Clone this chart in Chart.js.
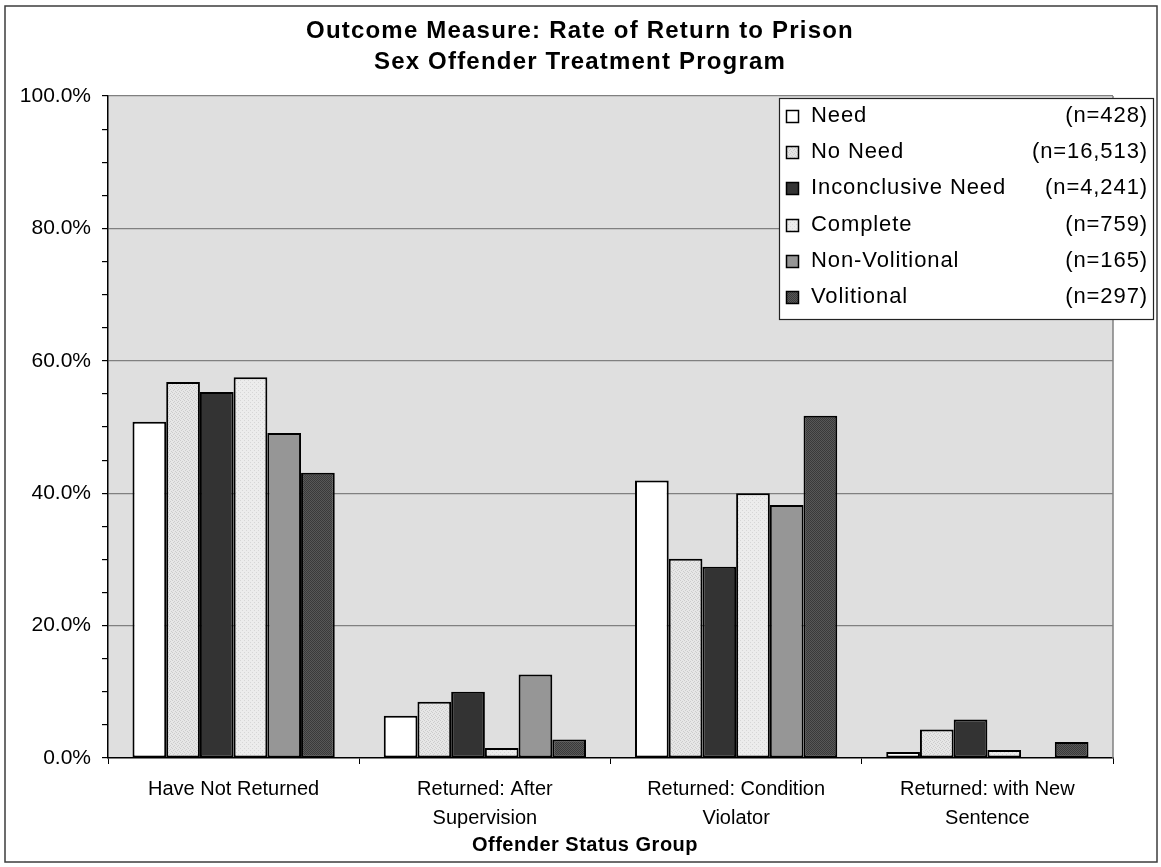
<!DOCTYPE html>
<html>
<head>
<meta charset="utf-8">
<script src="https://cdn.jsdelivr.net/npm/chart.js@4.4.0/dist/chart.umd.min.js"></script>
<style>
  html, body { margin: 0; padding: 0; background: #fff; }
  #wrap { width: 1161px; height: 867px; }
</style>
</head>
<body>
<div id="wrap"><canvas id="chart" width="1161" height="867"></canvas></div>
<script>
// categories and series
var categories = [["Have Not Returned"], ["Returned: After", "Supervision"], ["Returned: Condition", "Violator"], ["Returned: with New", "Sentence"]];
var seriesNames = ["Need", "No Need", "Inconclusive Need", "Complete", "Non-Volitional", "Volitional"];
var seriesCounts = ["(n=428)", "(n=16,513)", "(n=4,241)", "(n=759)", "(n=165)", "(n=297)"];
var needValues = [50.8, 6.4, 41.9, 0.9];
var noNeedValues = [56.8, 8.5, 30.1, 4.3];
var inconclusiveValues = [55.3, 10.0, 28.9, 5.8];
var completeValues = [57.5, 1.5, 40.0, 1.2];
var nonVolitionalValues = [49.1, 12.6, 38.2, 0];
var volitionalValues = [43.1, 2.8, 51.7, 2.4];
var yTicks = [0, 20, 40, 60, 80, 100];

var canvas = document.getElementById('chart');
var ctx = canvas.getContext('2d');
var fontFamily = '"Liberation Sans", Arial, sans-serif';
Chart.defaults.font.family = fontFamily;
Chart.defaults.color = '#000';

// small tiled fills, like the excel patterns
function makePattern(bg, dot, cells){
    var tile = document.createElement('canvas');
    tile.width = 4;
    tile.height = 4;
    var t = tile.getContext('2d');
    t.fillStyle = bg;
    t.fillRect(0, 0, 4, 4);
    t.fillStyle = dot;
    cells.forEach(function(p){ t.fillRect(p[0], p[1], 1, 1); });
    return ctx.createPattern(tile, 'repeat');
}

var fills = [
    '#ffffff',
    makePattern('#e6e6e6', '#cccccc', [[0, 0], [2, 1], [1, 2], [3, 3]]),
    '#333333',
    makePattern('#ececec', '#d6d6d6', [[0, 0], [2, 2]]),
    '#969696',
    makePattern('#585858', '#3a3a3a', [[0, 0], [2, 0], [1, 1], [3, 1], [0, 2], [2, 2], [1, 3], [3, 3]])
];
var values = [needValues, noNeedValues, inconclusiveValues, completeValues, nonVolitionalValues, volitionalValues];

var datasets = seriesNames.map(function(name, i){
    return {
        label: name,
        data: values[i],
        backgroundColor: fills[i],
        borderColor: '#000',
        borderWidth: 2,
        borderSkipped: false,
        categoryPercentage: 0.805,
        barPercentage: 1
    };
});

var decor = {
    id: 'decor',
    beforeDraw: function(chart){
        var c = chart.ctx, a = chart.chartArea;
        c.save();
        c.fillStyle = '#fff';
        c.fillRect(0, 0, chart.width, chart.height);
        c.fillStyle = '#dfdfdf';
        c.fillRect(a.left, a.top, a.right - a.left, a.bottom - a.top);
        c.restore();
    },
    afterDraw: function(chart){
        var c = chart.ctx, a = chart.chartArea;
        c.save();
        // right edge of plot area
        c.strokeStyle = '#808080';
        c.lineWidth = 1.5;
        c.beginPath();
        c.moveTo(a.right, a.top);
        c.lineTo(a.right, a.bottom);
        c.stroke();

        // titles
        c.fillStyle = '#000';
        c.textAlign = 'center';
        c.textBaseline = 'middle';
        c.font = 'bold 24px ' + fontFamily;
        c.letterSpacing = '1.2px';
        c.fillText('Outcome Measure: Rate of Return to Prison', 580, 31);
        c.fillText('Sex Offender Treatment Program', 580, 62);
        c.font = 'bold 20px ' + fontFamily;
        c.letterSpacing = '0.5px';
        c.fillText('Offender Status Group', 585, 845);

        // legend box
        var lx = 779, ly = 98, lw = 374, lh = 221;
        c.fillStyle = '#fff';
        c.fillRect(lx, ly, lw, lh);
        c.strokeStyle = '#222';
        c.lineWidth = 1.2;
        c.strokeRect(lx + 0.5, ly + 0.5, lw, lh);
        c.font = '22px ' + fontFamily;
        c.letterSpacing = '0.9px';
        chart.data.datasets.forEach(function(ds, i){
            var cy = 116 + i * 36.2;
            c.fillStyle = ds.backgroundColor;
            c.fillRect(786, Math.round(cy) - 6, 13, 13);
            c.strokeStyle = '#000';
            c.lineWidth = 1.5;
            c.strokeRect(786.5, Math.round(cy) - 5.5, 12, 12);
            c.fillStyle = '#000';
            c.textAlign = 'left';
            c.fillText(ds.label, 811, cy);
            c.textAlign = 'right';
            c.fillText(seriesCounts[i], 1148, cy);
        });
        c.letterSpacing = '0px';

        // outer frame
        c.strokeStyle = '#3c3c3c';
        c.lineWidth = 1.5;
        c.strokeRect(5, 6, 1152, 856);
        c.restore();
    }
};

new Chart(ctx, {
    type: 'bar',
    data: { labels: categories, datasets: datasets },
    options: {
        responsive: false,
        animation: false,
        devicePixelRatio: 1,
        layout: { padding: { left: 0, right: 48, top: 96, bottom: 0 } },
        plugins: {
            legend: { display: false },
            tooltip: { enabled: false },
            title: { display: false }
        },
        scales: {
            x: {
                afterFit: function(s){ s.height = 109; },
                ticks: { color: '#000', font: { size: 20, lineHeight: 1.45 }, padding: 11, maxRotation: 0, autoSkip: false },
                grid: { offset: true, drawOnChartArea: false, tickColor: '#000', tickLength: 6 },
                border: { color: '#000', width: 1.5 }
            },
            y: {
                min: 0,
                max: 100,
                afterFit: function(s){ s.width = 108; },
                ticks: {
                    stepSize: 5,
                    autoSkip: false,
                    padding: 11,
                    color: '#000',
                    font: { size: 21 },
                    callback: function(v){ return yTicks.indexOf(v) >= 0 ? v.toFixed(1) + '%' : ''; }
                },
                grid: {
                    color: function(c){ return (c.tick && c.tick.value > 0 && yTicks.indexOf(c.tick.value) >= 0) ? '#808080' : 'rgba(0,0,0,0)'; },
                    tickColor: '#000',
                    tickLength: 6,
                    lineWidth: 1.2
                },
                border: { color: '#000', width: 1.5 }
            }
        }
    },
    plugins: [decor]
});
</script>
</body>
</html>
